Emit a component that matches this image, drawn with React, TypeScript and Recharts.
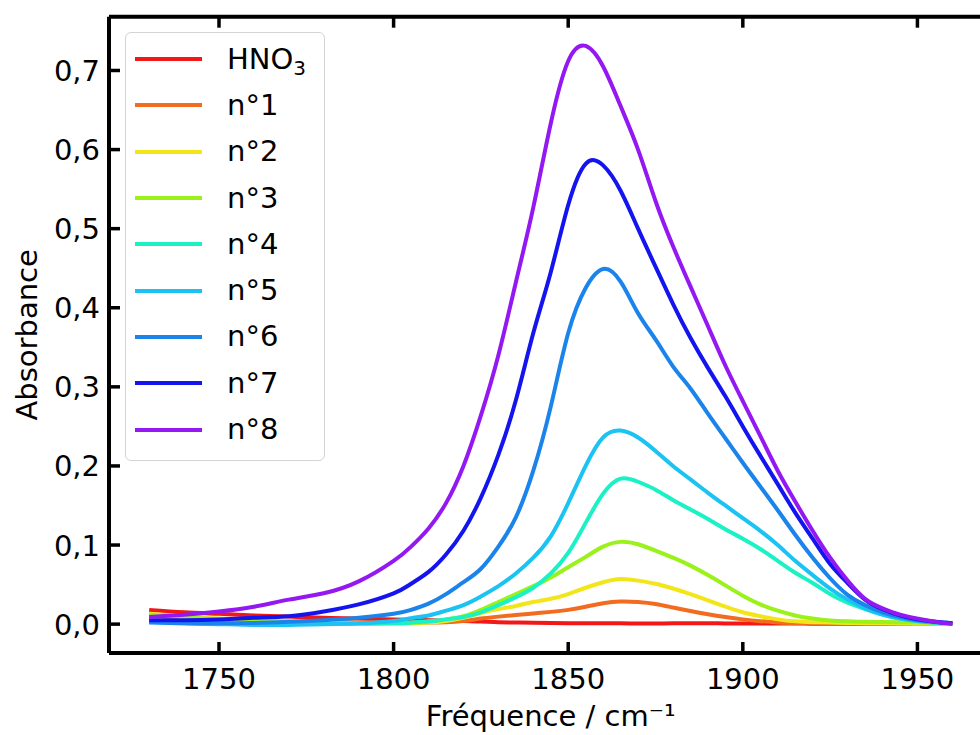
import { LineChart, Line, XAxis, YAxis, Legend, Label } from "recharts"

const freq = [
  1730, 1740, 1750, 1760, 1770, 1780, 1790, 1800, 1805, 1810,
  1815, 1820, 1825, 1830, 1835, 1840, 1845, 1850, 1855, 1860,
  1865, 1870, 1875, 1880, 1885, 1890, 1895, 1900, 1905, 1910,
  1915, 1920, 1925, 1930, 1935, 1940, 1945, 1950, 1955, 1960,
]

const hno3 = [
  0.018, 0.015, 0.013, 0.011, 0.0095, 0.008, 0.007, 0.006, 0.0055, 0.005,
  0.0045, 0.004, 0.0032, 0.0025, 0.002, 0.0016, 0.0013, 0.0011, 0.001, 0.001,
  0.001, 0.0009, 0.0009, 0.001, 0.001, 0.001, 0.0009, 0.0008, 0.0008, 0.0007,
  0.0007, 0.0006, 0.0006, 0.0005, 0.0005, 0.0005, 0.0004, 0.0004, 0.0003, 0.0003,
]
const n1 = [
  0.011, 0.008, 0.006, 0.004, 0.003, 0.0025, 0.002, 0.002, 0.002, 0.002,
  0.0025, 0.004, 0.007, 0.0095, 0.0115, 0.0135, 0.0155, 0.018, 0.022, 0.0265,
  0.0287, 0.028, 0.0255, 0.021, 0.0165, 0.0125, 0.009, 0.006, 0.0037, 0.0022,
  0.0015, 0.001, 0.0008, 0.0007, 0.0006, 0.0005, 0.0005, 0.0004, 0.0003, 0.0003,
]
const n2 = [
  0.013, 0.01, 0.007, 0.005, 0.003, 0.002, 0.0015, 0.001, 0.001, 0.002,
  0.004, 0.008, 0.014, 0.019, 0.023, 0.028, 0.032, 0.038, 0.046, 0.053,
  0.057, 0.055, 0.051, 0.045, 0.038, 0.03, 0.022, 0.015, 0.01, 0.006,
  0.0035, 0.0025, 0.002, 0.0015, 0.0012, 0.001, 0.0008, 0.0006, 0.0005, 0.0004,
]
const n3 = [
  0.012, 0.009, 0.006, 0.004, 0.003, 0.002, 0.001, 0.001, 0.0015, 0.003,
  0.006, 0.01, 0.018, 0.028, 0.038, 0.048, 0.059, 0.072, 0.085, 0.098,
  0.104, 0.101, 0.093, 0.084, 0.074, 0.062, 0.049, 0.036, 0.025, 0.017,
  0.011, 0.007, 0.0045, 0.0035, 0.003, 0.0027, 0.0024, 0.002, 0.0015, 0.001,
]
const n4 = [
  0.005, 0.002, 0.001, 0.0005, 0.0003, 0.0003, 0.0005, 0.001, 0.002, 0.0035,
  0.006, 0.009, 0.015, 0.024, 0.034, 0.046, 0.064, 0.09, 0.128, 0.165,
  0.184, 0.18, 0.17, 0.157, 0.145, 0.133, 0.12, 0.108, 0.095, 0.08,
  0.065, 0.052, 0.038, 0.027, 0.019, 0.012, 0.007, 0.004, 0.002, 0.001,
]
const n5 = [
  0.003, 0.001, 0.0, -0.001, -0.001, 0.0, 0.001, 0.004, 0.0075, 0.011,
  0.017, 0.024, 0.035, 0.048, 0.064, 0.084, 0.111, 0.153, 0.2, 0.236,
  0.2447, 0.236, 0.219, 0.2, 0.183, 0.166, 0.15, 0.134, 0.118, 0.1,
  0.08, 0.062, 0.045, 0.031, 0.02, 0.012, 0.007, 0.004, 0.002, 0.001,
]
const n6 = [
  0.002, 0.001, 0.001, 0.0015, 0.003, 0.005, 0.008, 0.013, 0.018, 0.026,
  0.038, 0.053, 0.07, 0.098, 0.135, 0.194, 0.275, 0.368, 0.425, 0.449,
  0.433, 0.393, 0.36, 0.326, 0.298, 0.266, 0.235, 0.204, 0.174, 0.144,
  0.113, 0.084, 0.058, 0.037, 0.024, 0.015, 0.009, 0.005, 0.003, 0.001,
]
const n7 = [
  0.005, 0.005, 0.006, 0.008, 0.01, 0.016, 0.025, 0.039, 0.051, 0.066,
  0.088, 0.118, 0.16, 0.214, 0.283, 0.368, 0.445, 0.53, 0.582, 0.58,
  0.548, 0.5, 0.452, 0.405, 0.362, 0.324, 0.288, 0.25, 0.213, 0.177,
  0.141, 0.108, 0.076, 0.052, 0.031, 0.019, 0.011, 0.006, 0.003, 0.001,
]
const n8 = [
  0.009, 0.012, 0.016, 0.022, 0.031, 0.039, 0.054, 0.08, 0.098, 0.121,
  0.153, 0.2, 0.264, 0.34, 0.432, 0.527, 0.633, 0.712, 0.731, 0.705,
  0.655, 0.6, 0.535, 0.478, 0.427, 0.377, 0.327, 0.282, 0.238, 0.194,
  0.155, 0.118, 0.084, 0.055, 0.032, 0.02, 0.012, 0.007, 0.003, 0.0005,
]

const xTicks = [1750, 1800, 1850, 1900, 1950]
const yTicks = [0, 0.1, 0.2, 0.3, 0.4, 0.5, 0.6, 0.7]

const series = [
  { key: "hno3", label: "HNO3", color: "#f21818", values: hno3 },
  { key: "n1", label: "n°1", color: "#f26b1e", values: n1 },
  { key: "n2", label: "n°2", color: "#f2e61a", values: n2 },
  { key: "n3", label: "n°3", color: "#9af21a", values: n3 },
  { key: "n4", label: "n°4", color: "#1af2c6", values: n4 },
  { key: "n5", label: "n°5", color: "#1ac3f2", values: n5 },
  { key: "n6", label: "n°6", color: "#1a84ea", values: n6 },
  { key: "n7", label: "n°7", color: "#1414ee", values: n7 },
  { key: "n8", label: "n°8", color: "#9418f2", values: n8 },
]

const data = freq.map((f, i) => {
  const row: Record<string, number> = { f }
  series.forEach((s) => (row[s.key] = s.values[i]))
  return row
})

const font = "DejaVu Sans, sans-serif"
const TL = 11
const spine = { stroke: "#000", strokeWidth: 4 }

// ticks point inward, like matplotlib's direction="in"
function BottomTick(p: any) {
  return (
    <g>
      <line x1={p.x} y1={p.y} x2={p.x} y2={p.y - TL} stroke="#000" strokeWidth={3.5} />
      <text x={p.x} y={p.y + 36} textAnchor="middle" fill="#000" fontSize={29} fontFamily={font}>
        {p.payload.value}
      </text>
    </g>
  )
}
function TopTick(p: any) {
  return <line x1={p.x} y1={p.y} x2={p.x} y2={p.y + TL} stroke="#000" strokeWidth={3.5} />
}
function LeftTick(p: any) {
  return (
    <g>
      <line x1={p.x} y1={p.y} x2={p.x + TL} y2={p.y} stroke="#000" strokeWidth={3.5} />
      <text x={p.x - 9} y={p.y + 10.5} textAnchor="end" fill="#000" fontSize={29} fontFamily={font}>
        {p.payload.value.toFixed(1).replace(".", ",")}
      </text>
    </g>
  )
}
function RightTick(p: any) {
  return <line x1={p.x} y1={p.y} x2={p.x - TL} y2={p.y} stroke="#000" strokeWidth={3.5} />
}

function LegendBox() {
  return (
    <div
      style={{
        width: 198,
        height: 424,
        border: "1.5px solid #d4d4d4",
        borderRadius: 6,
        background: "rgba(255,255,255,0.85)",
        paddingTop: 3,
        boxSizing: "content-box",
        fontFamily: font,
        fontSize: 29,
        color: "#000",
      }}
    >
      {series.map((s) => (
        <div key={s.key} style={{ height: 46.3, display: "flex", alignItems: "center" }}>
          <div style={{ marginLeft: 9, width: 67, height: 4, background: s.color }} />
          <div style={{ marginLeft: 25, lineHeight: 1 }}>
            {s.key === "hno3" ? (
              <span>
                HNO<span style={{ fontSize: 20, position: "relative", top: 6 }}>3</span>
              </span>
            ) : (
              s.label
            )}
          </div>
        </div>
      ))}
    </div>
  )
}

export default function App() {
  return (
    <div
      style={{
        position: "absolute",
        left: 0,
        top: 0,
        width: 980,
        height: 735,
        overflow: "hidden",
        background: "#fff",
      }}
    >
      <LineChart
        width={1000}
        height={735}
        data={data}
        margin={{ top: 15.7, right: 6.5, bottom: 42, left: 49 }}
      >
        <XAxis
          xAxisId="b"
          dataKey="f"
          type="number"
          domain={[1718.5, 1971.5]}
          ticks={xTicks}
          allowDataOverflow
          height={40}
          tickSize={0}
          tickMargin={0}
          tick={BottomTick}
          tickLine={false}
          axisLine={spine}
        >
          <Label
            value="Fréquence / cm⁻¹"
            position="bottom"
            offset={12}
            style={{ fill: "#000", fontSize: 29, fontFamily: font }}
          />
        </XAxis>
        <XAxis
          xAxisId="t"
          dataKey="f"
          type="number"
          orientation="top"
          domain={[1718.5, 1971.5]}
          ticks={xTicks}
          allowDataOverflow
          height={1}
          tickSize={0}
          tickMargin={0}
          tick={TopTick}
          tickLine={false}
          axisLine={spine}
        />
        <YAxis
          yAxisId="l"
          type="number"
          domain={[-0.0365, 0.768]}
          ticks={yTicks}
          allowDataOverflow
          width={60}
          tickSize={0}
          tickMargin={0}
          tick={LeftTick}
          tickLine={false}
          axisLine={spine}
        >
          <Label
            value="Absorbance"
            angle={-90}
            position="insideLeft"
            offset={-22.5}
            style={{ fill: "#000", fontSize: 29, fontFamily: font, textAnchor: "middle" }}
          />
        </YAxis>
        <YAxis
          yAxisId="r"
          orientation="right"
          type="number"
          domain={[-0.0365, 0.768]}
          ticks={yTicks}
          allowDataOverflow
          width={1}
          tickSize={0}
          tickMargin={0}
          tick={RightTick}
          tickLine={false}
          axisLine={spine}
        />
        <Legend
          layout="vertical"
          align="center"
          verticalAlign="middle"
          content={() => <LegendBox />}
          wrapperStyle={{ position: "absolute", left: 125, top: 32, width: "auto", height: "auto" }}
        />
        {series.map((s) => (
          <Line
            key={s.key}
            xAxisId="b"
            yAxisId="l"
            dataKey={s.key}
            type="natural"
            stroke={s.color}
            strokeWidth={4}
            dot={false}
            isAnimationActive={false}
          />
        ))}
      </LineChart>
    </div>
  )
}
